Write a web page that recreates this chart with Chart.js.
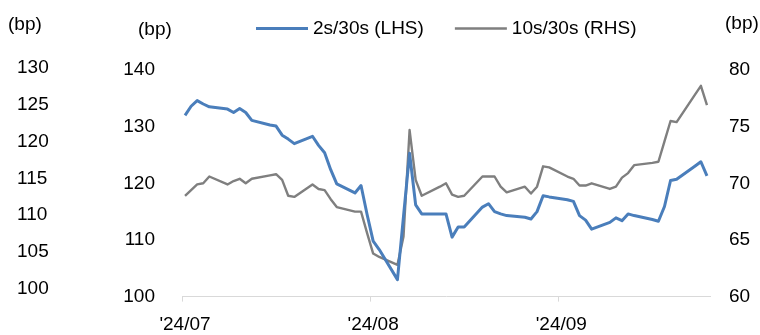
<!DOCTYPE html>
<html>
<head>
<meta charset="utf-8">
<script src="https://cdn.jsdelivr.net/npm/chart.js@4/dist/chart.umd.min.js"></script>
<style>
  html, body { margin: 0; padding: 0; background: #fff; }
</style>
</head>
<body>
<canvas id="myChart" width="760" height="335"></canvas>
<script>
// business days shown in the chart
const dates = [
  '2024-07-01', '2024-07-02', '2024-07-03', '2024-07-04', '2024-07-05',
  '2024-07-08', '2024-07-09', '2024-07-10', '2024-07-11', '2024-07-12',
  '2024-07-15', '2024-07-16', '2024-07-17', '2024-07-18', '2024-07-19',
  '2024-07-22', '2024-07-23', '2024-07-24', '2024-07-25', '2024-07-26',
  '2024-07-29', '2024-07-30', '2024-07-31',
  '2024-08-01', '2024-08-02',
  '2024-08-05', '2024-08-06', '2024-08-07', '2024-08-08', '2024-08-09',
  '2024-08-12', '2024-08-13', '2024-08-14', '2024-08-15', '2024-08-16',
  '2024-08-19', '2024-08-20', '2024-08-21', '2024-08-22', '2024-08-23',
  '2024-08-26', '2024-08-27', '2024-08-28', '2024-08-29', '2024-08-30',
  '2024-09-02', '2024-09-03', '2024-09-04', '2024-09-05', '2024-09-06',
  '2024-09-09', '2024-09-10', '2024-09-11', '2024-09-12', '2024-09-13',
  '2024-09-16', '2024-09-17', '2024-09-18', '2024-09-19', '2024-09-20',
  '2024-09-23', '2024-09-24', '2024-09-25'
];

// 2s/30s spread (bp, left axis)
const spread2s30s = [
  132.0, 133.6, 134.6, 134.0, 133.5,
  133.1, 132.5, 133.2, 132.5, 131.1,
  130.3, 130.1, 128.5, 127.8, 127.0,
  128.3, 126.7, 125.4, 122.4, 119.9,
  118.3, 119.6, 114.5,
  109.8, 108.3,
  103.0, 114.2, 125.3, 116.2, 114.6,
  114.6, 114.6, 110.5, 112.3, 112.3,
  115.8, 116.4, 115.0, 114.6, 114.3,
  114.0, 113.7, 115.0, 117.8, 117.6,
  117.1, 116.8, 114.3, 113.5, 111.9,
  113.1, 113.9, 113.4, 114.6, 114.3,
  113.6, 113.3, 115.9, 120.5, 120.7,
  123.0, 123.8, 121.3
];

// 10s/30s spread (bp, right axis)
const spread10s30s = [
  68.9, 69.4, 69.9, 70.0, 70.6,
  69.9, 70.2, 70.4, 70.0, 70.4,
  70.7, 70.8, 70.3, 68.9, 68.8,
  69.9, 69.5, 69.4, 68.6, 67.9,
  67.5, 67.5, 65.6,
  63.8, 63.5,
  62.8, 65.3, 74.7, 70.3, 68.9,
  69.7, 70.0, 69.0, 68.8, 68.9,
  70.6, 70.6, 70.6, 69.7, 69.2,
  69.7, 69.1, 69.7, 71.5, 71.4,
  70.6, 70.4, 69.8, 69.8, 70.0,
  69.5, 69.7, 70.5, 70.9, 71.6,
  71.8, 71.9, 73.7, 75.5, 75.4,
  77.8, 78.6, 76.9
];

const monthStarts = ['2024-07-01', '2024-08-01', '2024-09-01'];
const monthLabels = ["'24/07", "'24/08", "'24/09"];
const axisEnd = '2024-09-26';

const leftTicks = [100, 110, 120, 130, 140];
const rightTicks = [60, 65, 70, 75, 80];
const extraTicks = [100, 105, 110, 115, 120, 125, 130];

const seriesNames = ['2s/30s (LHS)', '10s/30s (RHS)'];
const unitLabel = '(bp)';

const FONT = "'Liberation Sans', Arial, sans-serif";

function dayIndex(s) {
  return (Date.parse(s + 'T00:00:00Z') - Date.parse(dates[0] + 'T00:00:00Z')) / 86400000;
}

// points sit in the middle of their day slot
const bluePts = dates.map((d, i) => ({ x: dayIndex(d) + 0.5, y: spread2s30s[i] }));
const grayPts = dates.map((d, i) => ({ x: dayIndex(d) + 0.5, y: spread10s30s[i] }));

const labelsPlugin = {
  id: 'labelsPlugin',
  afterDraw(chart) {
    const c = chart.ctx;
    c.save();
    c.font = '19px ' + FONT;
    c.fillStyle = '#000';
    c.textBaseline = 'middle';
    c.textAlign = 'left';
    // unit labels
    c.fillText(unitLabel, 8, 25);
    c.fillText(unitLabel, 138, 30);
    c.fillText(unitLabel, 725, 24);
    // legend
    let x = 256;
    chart.data.datasets.forEach(ds => {
      c.strokeStyle = ds.borderColor;
      c.lineWidth = ds.borderWidth;
      c.beginPath();
      c.moveTo(x, 28.5);
      c.lineTo(x + 52, 28.5);
      c.stroke();
      x += 57;
      c.fillText(ds.label, x, 29);
      x += c.measureText(ds.label).width + 31;
    });
    c.restore();
  }
};

const ctx = document.getElementById('myChart').getContext('2d');
const myChart = new Chart(ctx, {
  type: 'line',
  data: {
    datasets: [
      {
        label: seriesNames[0],
        data: bluePts,
        yAxisID: 'y',
        borderColor: '#4a7ebb',
        backgroundColor: '#4a7ebb',
        borderWidth: 3,
        borderJoinStyle: 'round',
        pointRadius: 0,
        tension: 0
      },
      {
        label: seriesNames[1],
        data: grayPts,
        yAxisID: 'y1',
        borderColor: '#7f7f7f',
        backgroundColor: '#7f7f7f',
        borderWidth: 2.4,
        borderJoinStyle: 'round',
        pointRadius: 0,
        tension: 0
      }
    ]
  },
  plugins: [labelsPlugin],
  options: {
    responsive: false,
    animation: false,
    layout: { padding: { top: 70, left: 17, right: 0, bottom: 0 } },
    plugins: {
      legend: { display: false },
      tooltip: { enabled: false }
    },
    scales: {
      x: {
        type: 'linear',
        min: 0,
        max: dayIndex(axisEnd),
        afterBuildTicks: s => { s.ticks = monthStarts.map(d => ({ value: dayIndex(d) })); },
        afterFit: s => { s.height = 37; },
        grid: { drawOnChartArea: false, drawTicks: true, tickLength: 5, color: '#d9d9d9' },
        border: { display: true, color: '#d9d9d9' },
        ticks: {
          padding: 12,
          labelOffset: 3,
          maxRotation: 0,
          autoSkip: false,
          color: '#000',
          font: { family: FONT, size: 19 },
          callback: v => monthLabels[monthStarts.findIndex(d => dayIndex(d) === v)]
        }
      },
      y: {
        position: 'left',
        weight: 0,
        min: leftTicks[0],
        max: leftTicks[leftTicks.length - 1],
        afterBuildTicks: s => { s.ticks = leftTicks.map(v => ({ value: v })); },
        afterFit: s => { s.width = 60; },
        grid: { display: false, drawTicks: false },
        border: { display: false },
        ticks: { padding: 27, color: '#000', font: { family: FONT, size: 19 } }
      },
      y3: {
        position: 'left',
        weight: 1,
        min: 98.92,
        max: 129.73,
        afterBuildTicks: s => { s.ticks = extraTicks.map(v => ({ value: v })); },
        afterFit: s => { s.width = 105; },
        grid: { display: false, drawTicks: false },
        border: { display: false },
        ticks: { padding: 0, crossAlign: 'far', autoSkip: false, color: '#000', font: { family: FONT, size: 19 } }
      },
      y1: {
        position: 'right',
        min: rightTicks[0],
        max: rightTicks[rightTicks.length - 1],
        afterBuildTicks: s => { s.ticks = rightTicks.map(v => ({ value: v })); },
        afterFit: s => { s.width = 50; },
        grid: { display: false, drawTicks: false },
        border: { display: false },
        ticks: { padding: 19, color: '#000', font: { family: FONT, size: 19 } }
      }
    }
  }
});
</script>
</body>
</html>
